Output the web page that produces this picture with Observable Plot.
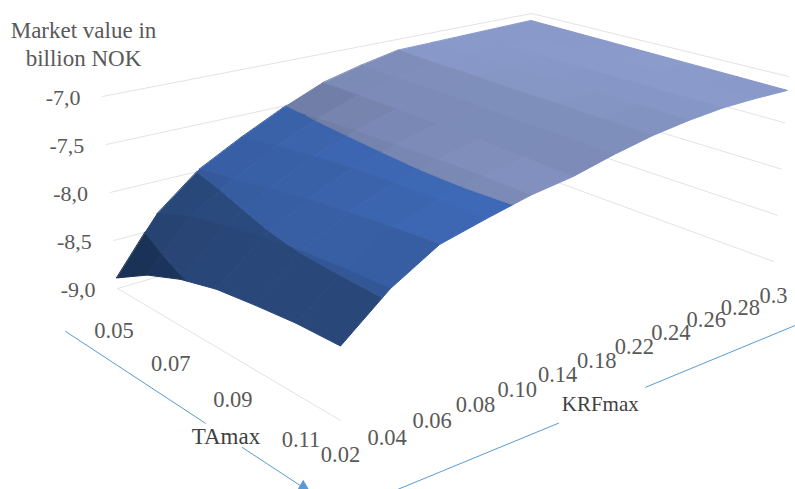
<!DOCTYPE html>
<html><head><meta charset="utf-8">
<script src="https://cdn.jsdelivr.net/npm/d3@7"></script>
<script src="https://cdn.jsdelivr.net/npm/@observablehq/plot@0.6"></script>
<style>html,body{margin:0;padding:0;background:#fff}svg{display:block}</style>
</head><body><div id="chart"></div>
<script>
// ---- data ----
const krfLabels = ["0.02","0.04","0.06","0.08","0.10","0.14","0.18","0.22","0.24","0.26","0.28","0.3"];
const taLevels  = ["0.05","0.06","0.07","0.08","0.09","0.10","0.11"];
const taLabels  = ["0.05","0.07","0.09","0.11"];
const zTicks    = [-7,-7.5,-8,-8.5,-9];
const zLabels   = ["-7,0","-7,5","-8,0","-8,5","-9,0"];
const titleLines = ["Market value in","billion NOK"];
const ta005 = [-8.89,-8.34,-7.98,-7.74,-7.52,-7.33,-7.22,-7.13,-7.12,-7.11,-7.10,-7.09];
const ta006 = [-8.67,-8.19,-7.92,-7.68,-7.49,-7.33,-7.23,-7.15,-7.13,-7.12,-7.11,-7.10];
const ta007 = [-8.52,-8.11,-7.85,-7.63,-7.47,-7.34,-7.24,-7.16,-7.14,-7.12,-7.12,-7.11];
const ta008 = [-8.42,-8.04,-7.79,-7.59,-7.46,-7.35,-7.25,-7.18,-7.15,-7.13,-7.12,-7.12];
const ta009 = [-8.37,-7.99,-7.74,-7.57,-7.45,-7.36,-7.27,-7.19,-7.16,-7.13,-7.13,-7.13];
const ta010 = [-8.33,-7.96,-7.70,-7.56,-7.45,-7.38,-7.28,-7.21,-7.16,-7.14,-7.13,-7.14];
const ta011 = [-8.32,-7.94,-7.67,-7.56,-7.46,-7.40,-7.30,-7.22,-7.17,-7.14,-7.14,-7.15];
const surface = [ta005,ta006,ta007,ta008,ta009,ta010,ta011];

// ---- box projection (perspective view of the chart cube) ----
function homography(p0,p1,p2,p3){
  const sx=p0[0]-p1[0]+p2[0]-p3[0], sy=p0[1]-p1[1]+p2[1]-p3[1];
  const dx1=p1[0]-p2[0], dx2=p3[0]-p2[0], dy1=p1[1]-p2[1], dy2=p3[1]-p2[1];
  const den=dx1*dy2-dx2*dy1;
  const g=(sx*dy2-dx2*sy)/den, h=(dx1*sy-sx*dy1)/den;
  const a=p1[0]-p0[0]+g*p1[0], b=p3[0]-p0[0]+h*p3[0], c=p0[0];
  const d=p1[1]-p0[1]+g*p1[1], e=p3[1]-p0[1]+h*p3[1], f=p0[1];
  return (u,v)=>{const w=g*u+h*v+1; return [(a*u+b*v+c)/w,(d*u+e*v+f)/w];};
}
const floorH = homography([117,288],[340,420],[773,261],[525,170]);
const topH   = homography([102,96],[340,201],[788,76],[531,13]);
const zMin=-9, zMax=-7;
function project(u,v,z){
  const t=(z-zMin)/(zMax-zMin), a=floorH(u,v), b=topH(u,v);
  return {x:a[0]+(b[0]-a[0])*t, y:a[1]+(b[1]-a[1])*t};
}
const nU=surface.length-1, nV=krfLabels.length-1;

// ---- grid lines ----
const grid=[];
zTicks.forEach((z,i)=>{
  [[0,0],[0,1],[1,1]].forEach(([u,v])=>grid.push({...project(u,v,z),id:"w"+i}));
});
[[0,0],[1,0]].forEach(([u,v])=>grid.push({...project(u,v,zMin),id:"f"}));

// ---- surface facets cut into value bands ----
const bands=[
  {lo:-9.5,hi:-8.5,rgb:[35,64,112],k:.40},
  {lo:-8.5,hi:-8,rgb:[46,80,136],k:.30},
  {lo:-8,hi:-7.5,rgb:[66,112,194],k:.60},
  {lo:-7.5,hi:-6.5,rgb:[138,155,204],k:1.0}
];
function clip(poly,limit,keepAbove){
  const out=[];
  const inside=p=>keepAbove? p.z>=limit : p.z<=limit;
  poly.forEach((p,i)=>{
    const q=poly[(i+1)%poly.length];
    if(inside(p)) out.push(p);
    if(inside(p)!==inside(q)){
      const t=(limit-p.z)/(q.z-p.z);
      out.push({u:p.u+(q.u-p.u)*t,v:p.v+(q.v-p.v)*t,z:limit});
    }
  });
  return out;
}
const facets=[]; let fid=0;
for(let j=nV-1;j>=0;j--) for(let i=0;i<nU;i++){
  const c=[[i,j],[i+1,j],[i+1,j+1],[i,j+1]].map(([a,b])=>({u:a/nU,v:b/nV,z:surface[a][b]}));
  const sv=((surface[i][j+1]-surface[i][j])+(surface[i+1][j+1]-surface[i+1][j]))/2;
  const su=((surface[i+1][j]-surface[i][j])+(surface[i+1][j+1]-surface[i][j+1]))/2;
  const slope=Math.abs(sv)+0.2*Math.abs(su);
  bands.forEach(b=>{
    let p=clip(c,b.lo,true); if(p.length) p=clip(p,b.hi,false);
    if(p.length<3) return;
    const f=Math.max(.6,1-b.k*slope);
    const color=`rgb(${b.rgb.map(x=>Math.round(x*f)).join(",")})`;
    fid++;
    p.forEach(q=>facets.push({...project(q.u,q.v,q.z),id:fid,color}));
  });
}

// ---- axis guides, given in floor coordinates outside the box ----
const guide=(u0,v0,u1,v1,id)=>[{...project(u0,v0,zMin),id},{...project(u1,v1,zMin),id}];
const guides=[
  ...guide(.16,-.165,.815,-.165,"a"), ...guide(.965,-.165,1.325,-.165,"b"),
  ...guide(1.329,-.161,1.323,.25,"c"), ...guide(1.32,.44,1.313,.858,"d")
];
const tip=project(1.195,-.165,zMin);
const taName=project(.90,-.165,zMin), krfName=project(1.32,.34,zMin);

const ink="#595959", serif="'Liberation Serif',serif";
const zText=zTicks.map((z,i)=>({...project(0,0,z),t:zLabels[i]}));
const taText=taLabels.map((t,i)=>({...project(.239+.781*i/3,-.126+.018*i/3,zMin),t}));
const krfText=krfLabels.map((t,j)=>({...project(1,j/nV,zMin),t}));
const corner=project(0,0,zMax);

const chart=Plot.plot({
  width:795,height:489,margin:0,
  style:{background:"#fff",fontFamily:serif},
  x:{domain:[0,795],axis:null},
  y:{domain:[489,0],axis:null},
  color:{type:"identity"},
  marks:[
    Plot.line(grid,{x:"x",y:"y",z:"id",stroke:"#e3e3e3",strokeWidth:1}),
    Plot.line(guides,{x:"x",y:"y",z:"id",stroke:"#5b9bd5",strokeWidth:1}),
    Plot.dot([tip],{x:"x",y:"y",symbol:"triangle",r:5,fill:"#5b9bd5"}),
    Plot.line(facets,{x:"x",y:"y",z:"id",fill:"color",stroke:"color",strokeWidth:1,curve:"linear-closed"}),
    Plot.text(zText,{x:"x",y:"y",text:"t",dx:-22,dy:1,textAnchor:"end",fontSize:22,fill:ink}),
    Plot.text(taText,{x:"x",y:"y",text:"t",dx:13,dy:-5,fontSize:22.5,fill:ink}),
    Plot.text(krfText,{x:"x",y:"y",text:"t",dy:34,fontSize:22.5,fill:ink}),
    Plot.text([titleLines[0]],{x:()=>corner.x,y:()=>corner.y,text:d=>d,dx:-19,dy:-66,fontSize:23,fill:ink}),
    Plot.text([titleLines[1]],{x:()=>corner.x,y:()=>corner.y,text:d=>d,dx:-19,dy:-38,fontSize:23,fill:ink}),
    Plot.text(["TAmax"],{x:()=>taName.x,y:()=>taName.y,text:d=>d,fontSize:23,fill:"#404040"}),
    Plot.text(["KRFmax"],{x:()=>krfName.x,y:()=>krfName.y,text:d=>d,dy:-1,fontSize:21,fill:"#404040"})
  ]
});
document.getElementById("chart").appendChild(chart);
</script></body></html>
